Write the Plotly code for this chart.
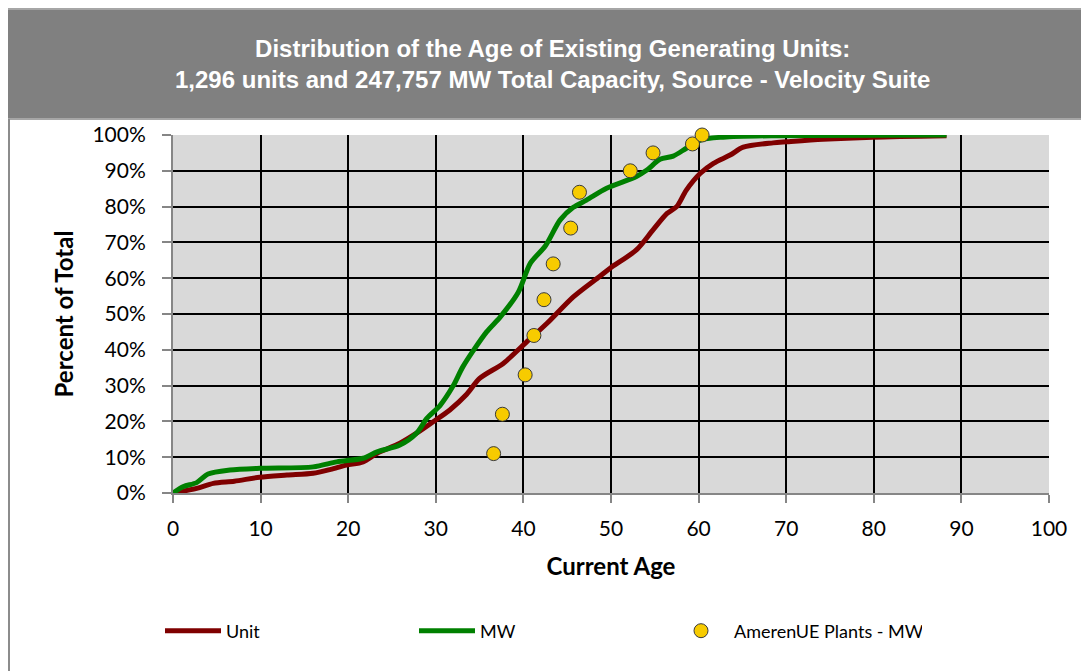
import plotly.graph_objects as go

# ---- data ----
unit_age = [0, 2.7, 4.6, 7.0, 9.9, 13.0, 16.0, 18.0, 19.8, 21.7, 23.3, 25.9, 27.8, 29.7, 31.6,
            33.5, 35.0, 37.7, 40.2, 42.7, 45.7, 48.7, 49.9, 52.9, 54.8, 56.4, 57.5, 58.6, 60.2,
            61.7, 63.6, 65.1, 68.5, 70.1, 74.2, 79.9, 88.3]
unit_pct = [0, 1.3, 2.7, 3.3, 4.4, 5.0, 5.5, 6.6, 7.8, 8.7, 11.1, 13.9, 16.7, 19.9, 23.2,
            27.5, 32.0, 36.2, 41.8, 47.4, 54.8, 60.5, 62.8, 67.9, 73.5, 78.1, 80.0, 84.6, 89.3,
            92.1, 94.4, 96.6, 97.8, 98.1, 98.8, 99.4, 99.8]

mw_age = [0, 1.2, 2.7, 4.0, 6.5, 9.9, 16.0, 18.7, 21.7, 23.3, 25.9, 27.8, 29.0, 30.5, 32.0,
          33.1, 35.8, 37.3, 39.4, 40.8, 42.5, 44.2, 45.7, 47.2, 49.5, 52.9, 54.1, 55.6, 57.1,
          58.6, 60.2, 62.8, 68.5, 88.3]
mw_pct = [0, 1.8, 2.9, 5.3, 6.4, 6.9, 7.3, 8.7, 9.7, 11.5, 13.4, 16.7, 20.9, 24.5, 30.0,
          35.3, 45.0, 49.0, 56.0, 64.2, 69.0, 76.3, 79.8, 81.8, 85.1, 88.4, 90.2, 93.2, 94.1,
          96.3, 98.6, 99.4, 99.8, 100.0]

ameren_age = [36.6, 37.6, 40.2, 41.2, 42.35, 43.4, 45.4, 46.4, 52.2, 54.8, 59.3, 60.4]
ameren_pct = [11, 22, 33, 44, 54, 64, 74, 84, 90, 95, 97.5, 100]

x_ticks = [0, 10, 20, 30, 40, 50, 60, 70, 80, 90, 100]
y_ticks = [0, 10, 20, 30, 40, 50, 60, 70, 80, 90, 100]

title_lines = ["Distribution of the Age of Existing Generating Units:",
               "1,296 units and 247,757 MW Total Capacity, Source - Velocity Suite"]

# ---- geometry (page pixels; the page body adds an 8px margin) ----
PAGE_W, PAGE_H = 1089, 671
OFF = 8
PL, PR, PT, PB = 173, 1049, 135, 493
pw, ph = PR - PL, PB - PT


def px(x):
    return (x - PL) / pw


def py(y):
    return (PB - y) / ph


fig = go.Figure()
fig.add_trace(go.Scatter(x=unit_age, y=unit_pct, name="Unit", mode="lines",
                         line=dict(color="#7F0000", width=5, shape="spline", smoothing=0.8)))
fig.add_trace(go.Scatter(x=mw_age, y=mw_pct, name="MW", mode="lines",
                         line=dict(color="#008000", width=5, shape="spline", smoothing=0.8)))
fig.add_trace(go.Scatter(x=ameren_age, y=ameren_pct, name="AmerenUE Plants - MW", mode="markers",
                         cliponaxis=False,
                         marker=dict(color="#F7CB00", size=14, line=dict(color="#3A3A3A", width=1))))

axis_font = dict(family="Lato, Open Sans, sans-serif", size=21, color="black")
title_font = dict(family="Lato, Open Sans, sans-serif", size=24, color="black")

fig.update_layout(
    width=PAGE_W - OFF, height=PAGE_H - OFF,
    margin=dict(l=PL - OFF, r=PAGE_W - PR, t=PT - OFF, b=PAGE_H - PB, pad=0),
    paper_bgcolor="white",
    plot_bgcolor="#D9D9D9",
    showlegend=True,
    legend=dict(orientation="h", x=px(160), y=py(631), xanchor="left", yanchor="middle",
                font=dict(family="Lato, Open Sans, sans-serif", size=18, color="black"),
                entrywidth=183, entrywidthmode="pixels", itemwidth=56,
                bgcolor="rgba(0,0,0,0)"),
    shapes=[
        dict(type="rect", xref="paper", yref="paper", x0=px(7), x1=px(1100), y0=py(119), y1=py(9),
             fillcolor="#808080", line=dict(color="#A6A6A6", width=2), layer="below"),
        dict(type="line", xref="paper", yref="paper", x0=px(9), x1=px(9), y0=py(119), y1=py(680),
             line=dict(color="#8C8C8C", width=2)),
    ],
    annotations=[
        dict(text="<b>" + title_lines[0] + "<br>" + title_lines[1] + "</b>",
             xref="paper", yref="paper", x=px(552), y=py(64), xanchor="center", yanchor="middle",
             showarrow=False, align="center",
             font=dict(family="Liberation Sans, Arial, sans-serif", size=24, color="white")),
    ],
    xaxis=dict(range=[0, 100], tickvals=x_ticks, ticktext=[str(v) for v in x_ticks],
               showgrid=True, gridcolor="black", gridwidth=1.5,
               showline=True, linecolor="#868686", linewidth=2,
               ticks="outside", ticklen=8, tickcolor="#868686", tickwidth=2,
               tickfont=axis_font, ticklabelstandoff=8,
               title=dict(text="<b>Current Age</b>", standoff=19, font=title_font),
               zeroline=False, fixedrange=True),
    yaxis=dict(range=[0, 100], tickvals=y_ticks, ticktext=[f"{v}%" for v in y_ticks],
               showgrid=True, gridcolor="black", gridwidth=1.5,
               showline=True, linecolor="#868686", linewidth=2,
               ticks="outside", ticklen=9, tickcolor="#868686", tickwidth=2,
               tickfont=axis_font, ticklabelstandoff=12,
               title=dict(text="<b>Percent of Total</b>", standoff=12, font=title_font),
               zeroline=False, fixedrange=True),
)

fig.write_html("out.html")
